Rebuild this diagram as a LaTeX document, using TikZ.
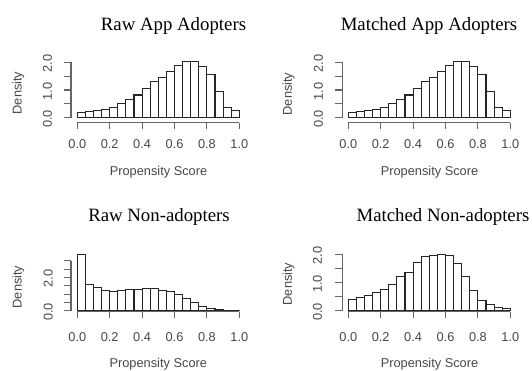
\documentclass[tikz,border=0pt]{standalone}
\usepackage{fontspec}
\setmainfont{Liberation Serif}
\setsansfont{Liberation Sans}

% Histogram bars: #1 = x of score 0, #2 = y of density 0, #3 = pt per density unit, #4 = bar heights
\newcommand\histbars[4]{%
  \foreach \h [count=\i from 0] in {#4}
    \draw[bar] ({#1+\i*8.1},#2) rectangle ({#1+(\i+1)*8.1},{#2-\h*#3});}

% Score axis: #1 = x of 0.0, #2 = y of axis line, #3 = y of labels, #4 = node prefix
\newcommand\scoreaxis[4]{%
  \draw[axisline] (#1,#2) -- ({#1+162},#2);
  \foreach \k in {0,...,5}
    \draw[axisline] ({#1+\k*32.4},#2) -- ++(0,6.5);
  \foreach \lab [count=\k from 0] in {0.0,0.2,0.4,0.6,0.8,1.0}
    \node[ticklab] (#4x\k) at ({#1+\k*32.4},#3) {\lab};}

\begin{document}
\begin{tikzpicture}[x=1pt,y=-1pt,
  bar/.style={draw=black!85,fill=white,line width=1.05pt},
  axisline/.style={draw=black!60,line width=1.05pt},
  ticklab/.style={font=\sffamily\fontsize{12.8}{14}\selectfont,text=black!72,inner sep=0pt},
  title/.style={font=\fontsize{18.8}{22}\selectfont,inner sep=0pt,anchor=base},
]
\useasboundingbox[fill=white] (0,0) rectangle (532,370);

% ---- Raw App Adopters ----
\node[title] (t1) at (173.5,30) {Raw App Adopters};
\histbars{77.3}{117.7}{27.7}{0.18,0.22,0.27,0.31,0.37,0.51,0.66,0.82,1.06,1.30,1.46,1.66,1.87,2.02,2.02,1.84,1.57,0.94,0.37,0.27}
\draw[axisline] (71,117.7) -- (71,62.3);
\foreach \v in {0,0.5,1,1.5,2} \draw[axisline] (71,{117.7-\v*27.7}) -- ++(-7.5,0);
\foreach \v/\lab in {0/0.0,1/1.0,2/2.0}
  \node[ticklab,rotate=90] (a\v) at (47.5,{119-\v*27.7}) {\lab};
\node[ticklab,rotate=90] (d1) at (18.3,93) {Density};
\scoreaxis{77.3}{122.5}{144.3}{a}
\node[ticklab] (s1) at (158.5,172.3) {Propensity Score};

% ---- Matched App Adopters ----
\node[title] (t2) at (429,30) {Matched App Adopters};
\histbars{348.3}{117.7}{27.7}{0.18,0.22,0.27,0.31,0.37,0.51,0.66,0.82,1.06,1.30,1.46,1.66,1.87,2.02,2.02,1.84,1.57,0.94,0.37,0.27}
\draw[axisline] (342.3,117.7) -- (342.3,62.3);
\foreach \v in {0,0.5,1,1.5,2} \draw[axisline] (342.3,{117.7-\v*27.7}) -- ++(-7.5,0);
\foreach \v/\lab in {0/0.0,1/1.0,2/2.0}
  \node[ticklab,rotate=90] (b\v) at (318.5,{119-\v*27.7}) {\lab};
\node[ticklab,rotate=90] (d2) at (288.5,94) {Density};
\scoreaxis{348.3}{122.5}{144.3}{b}
\node[ticklab] (s2) at (429.5,172.3) {Propensity Score};

% ---- Raw Non-adopters ----
\node[title] (t3) at (159,221) {Raw Non-adopters};
\histbars{77.3}{310.7}{16.67}{3.4,1.6,1.38,1.2,1.18,1.24,1.3,1.3,1.36,1.32,1.22,1.14,0.98,0.76,0.5,0.28,0.14,0.08,0.04,0.04}
\draw[axisline] (71,310.7) -- (71,260.7);
\foreach \v in {0,0.5,...,3} \draw[axisline] (71,{310.7-\v*16.67}) -- ++(-7.5,0);
\foreach \v/\lab in {0/0.0,2/2.0}
  \node[ticklab,rotate=90] (c\v) at (48.3,{312-\v*16.67}) {\lab};
\node[ticklab,rotate=90] (d3) at (18.3,287) {Density};
\scoreaxis{77.3}{311.7}{336.7}{c}
\node[ticklab] (s3) at (158.3,364) {Propensity Score};

% ---- Matched Non-adopters ----
\node[title] (t4) at (443,221) {Matched Non-adopters};
\histbars{348.3}{310.7}{28.2}{0.40,0.47,0.55,0.64,0.75,0.94,1.2,1.36,1.72,1.91,1.95,1.98,1.96,1.67,1.2,0.73,0.36,0.21,0.13,0.09}
\draw[axisline] (342.8,310.7) -- (342.8,254.3);
\foreach \v in {0,0.5,1,1.5,2} \draw[axisline] (342.8,{310.7-\v*28.2}) -- ++(-7.5,0);
\foreach \v/\lab in {0/0.0,1/1.0,2/2.0}
  \node[ticklab,rotate=90] (e\v) at (317.5,{312-\v*28.2}) {\lab};
\node[ticklab,rotate=90] (d4) at (288.5,284) {Density};
\scoreaxis{348.3}{311.7}{336.7}{e}
\node[ticklab] (s4) at (429.5,364) {Propensity Score};
\end{tikzpicture}
\end{document}
